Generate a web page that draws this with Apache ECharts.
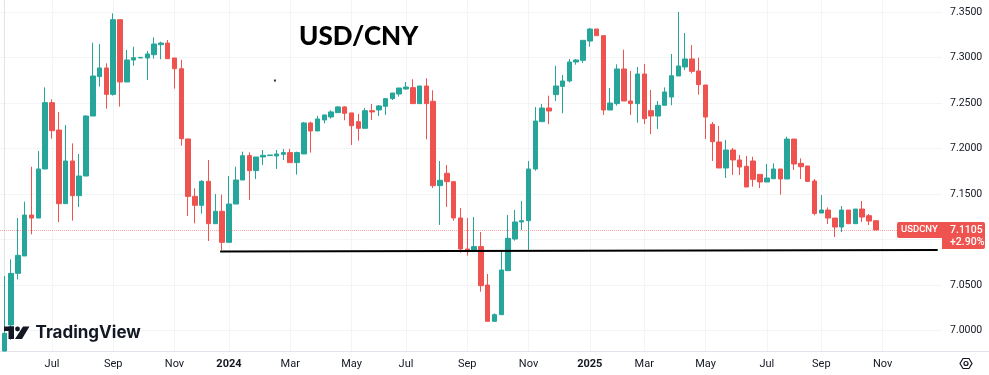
<!DOCTYPE html>
<html>
<head>
<meta charset="utf-8">
<title>USD/CNY</title>
<script src="https://cdn.jsdelivr.net/npm/echarts@6/dist/echarts.min.js"></script>
<style>
  html, body { margin: 0; padding: 0; background: #fff; }
  #chart { width: 989px; height: 375px; }
</style>
</head>
<body>
<div id="chart"></div>
<script>
// weekly candles
const opens = [
  6.9775, 7.0061, 7.0628, 7.0819, 7.1269, 7.1236, 7.1775, 7.2504, 7.2203, 7.1394,
  7.1863, 7.1482, 7.1698, 7.2357, 7.2790, 7.2885, 7.2595, 7.3416, 7.2731, 7.2973,
  7.2995, 7.2995, 7.3031, 7.3141, 7.3159, 7.2995, 7.2877, 7.2105, 7.1474, 7.1376,
  7.1639, 7.1174, 7.1310, 7.0969, 7.1390, 7.1654, 7.1922, 7.1757, 7.1907, 7.1922,
  7.1918, 7.1936, 7.1955, 7.1845, 7.1940, 7.2281, 7.2193, 7.2314, 7.2347, 7.2394,
  7.2457, 7.2391, 7.2295, 7.2222, 7.2416, 7.2424, 7.2464, 7.2548, 7.2599, 7.2654,
  7.2669, 7.2493, 7.2687, 7.2519, 7.1592, 7.1728, 7.1636, 7.1237, 7.0896, 7.0878,
  7.0922, 7.0500, 7.0101, 7.0174, 7.0658, 7.1006, 7.1193, 7.1207, 7.1775, 7.2295,
  7.2445, 7.2592, 7.2683, 7.2742, 7.2951, 7.2969, 7.3181, 7.3313, 7.3240, 7.2423,
  7.2493, 7.2874, 7.2522, 7.2493, 7.2819, 7.2416, 7.2357, 7.2475, 7.2566, 7.2797,
  7.2896, 7.2984, 7.2852, 7.2698, 7.2266, 7.2072, 7.1786, 7.1984, 7.1874, 7.1804,
  7.1863, 7.1716, 7.1632, 7.1668, 7.1775, 7.1665, 7.2104, 7.1837, 7.1808, 7.1643,
  7.1291, 7.1324, 7.1236, 7.1137, 7.1324, 7.1174, 7.1335, 7.1262, 7.1207
];
const closes = [
  6.9969, 7.0628, 7.0826, 7.1269, 7.1236, 7.1775, 7.2504, 7.2196, 7.1394, 7.1863,
  7.1482, 7.1698, 7.2357, 7.2797, 7.2885, 7.2595, 7.3416, 7.2731, 7.2973, 7.2998,
  7.3002, 7.3039, 7.3148, 7.3159, 7.2987, 7.2877, 7.2108, 7.1474, 7.1376, 7.1639,
  7.1174, 7.1310, 7.0969, 7.1390, 7.1654, 7.1921, 7.1757, 7.1907, 7.1925, 7.1929,
  7.1940, 7.1955, 7.1845, 7.1955, 7.2281, 7.2193, 7.2325, 7.2369, 7.2402, 7.2457,
  7.2387, 7.2251, 7.2222, 7.2416, 7.2402, 7.2468, 7.2548, 7.2610, 7.2665, 7.2676,
  7.2493, 7.2687, 7.2493, 7.1592, 7.1651, 7.1636, 7.1237, 7.0896, 7.0878, 7.0922,
  7.0493, 7.0101, 7.0174, 7.0665, 7.1013, 7.1193, 7.1207, 7.1775, 7.2302, 7.2445,
  7.2412, 7.2687, 7.2742, 7.2951, 7.2973, 7.3189, 7.3313, 7.3240, 7.2423, 7.2500,
  7.2874, 7.2522, 7.2493, 7.2819, 7.2328, 7.2357, 7.2475, 7.2621, 7.2800, 7.2907,
  7.2984, 7.2848, 7.2702, 7.2346, 7.2075, 7.1786, 7.1984, 7.1874, 7.1797, 7.1577,
  7.1661, 7.1632, 7.1676, 7.1775, 7.1665, 7.2104, 7.1830, 7.1800, 7.1639, 7.1287,
  7.1324, 7.1236, 7.1137, 7.1324, 7.1174, 7.1335, 7.1247, 7.1203, 7.1105
];
const lows = [
  6.9770, 6.9896, 7.0562, 7.0819, 7.1057, 7.1236, 7.1775, 7.2108, 7.1192, 7.1394,
  7.1207, 7.1357, 7.1698, 7.2357, 7.2680, 7.2438, 7.2581, 7.2460, 7.2731, 7.2910,
  7.2995, 7.2753, 7.2987, 7.2980, 7.2987, 7.2658, 7.2031, 7.1258, 7.1178, 7.1284,
  7.0984, 7.1174, 7.0885, 7.0969, 7.1390, 7.1654, 7.1435, 7.1665, 7.1819, 7.1922,
  7.1775, 7.1874, 7.1845, 7.1713, 7.1940, 7.1955, 7.2193, 7.2277, 7.2328, 7.2394,
  7.2310, 7.2039, 7.2087, 7.2222, 7.2314, 7.2358, 7.2369, 7.2533, 7.2570, 7.2647,
  7.2493, 7.2493, 7.2101, 7.1566, 7.1160, 7.1358, 7.1207, 7.0856, 7.0823, 7.0878,
  7.0427, 7.0101, 7.0101, 7.0174, 7.0658, 7.0988, 7.1105, 7.0885, 7.1757, 7.2295,
  7.2269, 7.2522, 7.2387, 7.2727, 7.2921, 7.2940, 7.3119, 7.3240, 7.2368, 7.2423,
  7.2471, 7.2522, 7.2368, 7.2284, 7.2269, 7.2159, 7.2214, 7.2475, 7.2475, 7.2797,
  7.2863, 7.2826, 7.2592, 7.2105, 7.1863, 7.1786, 7.1676, 7.1709, 7.1709, 7.1577,
  7.1581, 7.1566, 7.1632, 7.1668, 7.1493, 7.1665, 7.1764, 7.1665, 7.1632, 7.1266,
  7.1291, 7.1170, 7.1027, 7.1082, 7.1170, 7.1174, 7.1192, 7.1159, 7.1105
];
const highs = [
  7.0599, 7.0782, 7.1236, 7.1416, 7.1800, 7.1973, 7.2672, 7.2540, 7.2401, 7.2258,
  7.2057, 7.1940, 7.2365, 7.3163, 7.3148, 7.2936, 7.3485, 7.3416, 7.3083, 7.3119,
  7.3002, 7.3072, 7.3222, 7.3174, 7.3192, 7.2995, 7.2973, 7.2105, 7.1562, 7.1654,
  7.1874, 7.1500, 7.1493, 7.1698, 7.1800, 7.1965, 7.1958, 7.1907, 7.1984, 7.1929,
  7.1984, 7.1995, 7.1995, 7.1966, 7.2292, 7.2295, 7.2358, 7.2369, 7.2420, 7.2464,
  7.2464, 7.2391, 7.2380, 7.2446, 7.2489, 7.2478, 7.2555, 7.2610, 7.2665, 7.2731,
  7.2761, 7.2687, 7.2772, 7.2640, 7.1863, 7.1819, 7.1636, 7.1347, 7.1237, 7.1248,
  7.1083, 7.0621, 7.0189, 7.0867, 7.1270, 7.1325, 7.1424, 7.1863, 7.2456, 7.2489,
  7.2581, 7.2910, 7.2808, 7.2984, 7.2984, 7.3189, 7.3324, 7.3313, 7.3240, 7.2665,
  7.2925, 7.3086, 7.2852, 7.2896, 7.2929, 7.2643, 7.2522, 7.2672, 7.3039, 7.3500,
  7.3269, 7.3137, 7.2998, 7.2698, 7.2291, 7.2247, 7.2094, 7.2006, 7.1929, 7.1918,
  7.1910, 7.1716, 7.1830, 7.1837, 7.1775, 7.2130, 7.2104, 7.1892, 7.1808, 7.1665,
  7.1489, 7.1353, 7.1236, 7.1368, 7.1324, 7.1335, 7.1423, 7.1280, 7.1207
];

const priceTicks = [7.0, 7.05, 7.1, 7.15, 7.2, 7.25, 7.3, 7.35];
const priceLabels = [7.0, 7.05, 7.15, 7.2, 7.25, 7.3, 7.35]; // 7.1000 sits under the price tag
const monthTickIndex = [7, 16, 25, 33, 42, 51, 59, 68, 77, 86, 94, 103, 112, 120, 129];
const monthLabels = ['Jul', 'Sep', 'Nov', '2024', 'Mar', 'May', 'Jul', 'Sep', 'Nov', '2025', 'Mar', 'May', 'Jul', 'Sep', 'Nov'];

const supportLine = [[31.7, 7.0868], [137.1, 7.0885]];
const strayDot = [[39.75, 7.2747]];
const lastPrice = 7.1105;
const lastChange = '+2.90%';
const symbolName = 'USDCNY';

const GREEN = '#26a69a';
const RED = '#ef5350';
const GRID = '#f3f4f6';
const EDGE = '#e0e3eb';
const INK = '#131722';
const FONT = 'Roboto, sans-serif';

const candles = opens.map((o, i) => [i, o, closes[i], lows[i], highs[i]]);

const chart = echarts.init(document.getElementById('chart'));
chart.setOption({
  animation: false,
  backgroundColor: '#fff',
  title: {
    text: 'USD/CNY',
    left: 294,
    top: 19,
    textStyle: { fontFamily: 'Lato, sans-serif', fontWeight: 900, fontSize: 26, color: '#000' }
  },
  grid: { left: 0, top: 0, width: 942, height: 351 },
  xAxis: {
    type: 'value',
    min: -0.632,
    max: 137.73,
    axisLine: { onZero: false, lineStyle: { color: EDGE } },
    axisTick: { show: false, customValues: monthTickIndex },
    splitLine: { show: true, lineStyle: { color: GRID } },
    axisLabel: {
      customValues: monthTickIndex,
      margin: 8,
      fontFamily: FONT,
      fontSize: 11,
      color: INK,
      formatter: v => {
        const t = monthLabels[monthTickIndex.indexOf(v)];
        return /^\d/.test(t) ? '{y|' + t + '}' : t;
      },
      rich: { y: { fontFamily: FONT, fontSize: 11, fontWeight: 'bold', color: INK } }
    }
  },
  yAxis: {
    type: 'value',
    position: 'right',
    min: 6.9775,
    max: 7.3632,
    axisLine: { show: true, lineStyle: { color: EDGE } },
    axisTick: { show: false, customValues: priceTicks },
    splitLine: { show: true, lineStyle: { color: GRID } },
    axisLabel: {
      customValues: priceLabels,
      margin: 8,
      padding: [3, 0, 0, 0],
      fontFamily: FONT,
      fontSize: 10.5,
      color: INK,
      formatter: v => v.toFixed(4)
    }
  },
  series: [
    {
      type: 'candlestick',
      data: candles,
      encode: { x: 0, y: [1, 2, 3, 4] },
      barWidth: 5,
      clip: true,
      itemStyle: {
        color: GREEN,
        color0: RED,
        borderColor: GREEN,
        borderColor0: RED,
        borderWidth: 1
      },
      markLine: {
        silent: true,
        symbol: 'none',
        label: { show: false },
        lineStyle: { color: 'rgba(239,83,80,0.5)', type: 'dotted', width: 1 },
        data: [{ yAxis: lastPrice }]
      }
    },
    {
      type: 'line',
      data: supportLine,
      symbol: 'none',
      z: 5,
      lineStyle: { color: '#000', width: 2 }
    },
    {
      type: 'scatter',
      data: strayDot,
      symbol: 'rect',
      symbolSize: 2,
      z: 5,
      itemStyle: { color: '#000' }
    }
  ],
  graphic: [
    // bottom axis runs on under the price scale
    { type: 'line', z: 1, shape: { x1: 942, y1: 351.5, x2: 989, y2: 351.5 }, style: { stroke: EDGE, lineWidth: 1 } },

    // price tag
    { type: 'rect', z: 20, shape: { x: 897, y: 222, width: 46, height: 16, r: [2, 0, 0, 2] }, style: { fill: RED } },
    { type: 'rect', z: 20, shape: { x: 942, y: 222, width: 43, height: 27, r: [0, 2, 2, 0] }, style: { fill: RED } },
    { type: 'text', z: 21, x: 901, y: 225, style: { text: symbolName, fill: '#fff', fontFamily: FONT, fontSize: 9.5, fontWeight: 500 } },
    { type: 'text', z: 21, x: 950, y: 225, style: { text: lastPrice.toFixed(4), fill: '#fff', fontFamily: FONT, fontSize: 10.5, fontWeight: 500 } },
    { type: 'text', z: 21, x: 950, y: 237, style: { text: lastChange, fill: '#fff', fontFamily: FONT, fontSize: 10.5, fontWeight: 500 } },

    // TradingView mark
    { type: 'rect', z: 30, shape: { x: 4, y: 326.5, width: 10, height: 4.5 }, style: { fill: INK } },
    { type: 'rect', z: 30, shape: { x: 8.5, y: 326.5, width: 5.5, height: 12.5 }, style: { fill: INK } },
    { type: 'circle', z: 30, shape: { cx: 17.5, cy: 329, r: 2.4 }, style: { fill: INK } },
    { type: 'polygon', z: 30, shape: { points: [[23, 326.5], [29.5, 326.5], [22, 339], [15, 339]] }, style: { fill: INK } },
    { type: 'text', z: 30, x: 35.5, y: 324, style: { text: 'TradingView', fill: INK, fontFamily: 'Inter, sans-serif', fontSize: 17, fontWeight: 700 } },

    // settings icon
    { type: 'polygon', z: 30, shape: { points: [[960, 363.5], [963, 358.5], [969, 358.5], [972, 363.5], [969, 368.5], [963, 368.5]] }, style: { fill: 'none', stroke: INK, lineWidth: 1.2 } },
    { type: 'circle', z: 30, shape: { cx: 966, cy: 363.5, r: 2 }, style: { fill: 'none', stroke: INK, lineWidth: 1.2 } }
  ]
});
</script>
</body>
</html>
